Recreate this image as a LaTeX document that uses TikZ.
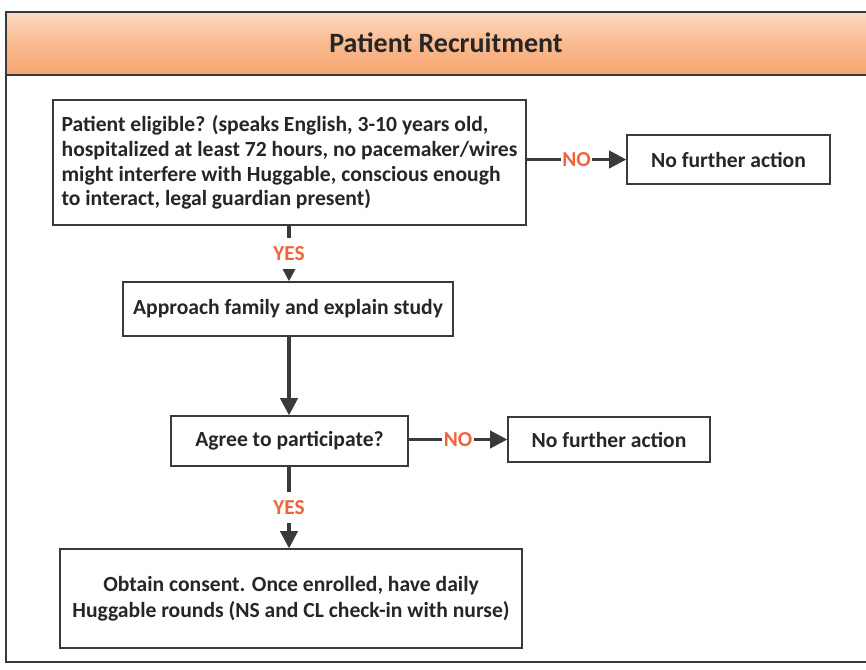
\documentclass[tikz,border=0pt]{standalone}
\usepackage{fontspec}
\setmainfont{Carlito}
\usetikzlibrary{arrows.meta}
\definecolor{ink}{HTML}{262626}
\definecolor{edge}{HTML}{3A3A3A}
\definecolor{accent}{HTML}{F0643C}
\definecolor{bandtop}{HTML}{FCDCC4}
\definecolor{bandmid}{HTML}{F9B98F}
\definecolor{bandbot}{HTML}{F6A570}
\begin{document}
\begin{tikzpicture}[x=0.75pt,y=-0.75pt,
  box/.style={draw=edge, line width=1pt, fill=white, inner sep=0pt,
    text=ink, font=\bfseries\fontsize{16.2}{18.5}\selectfont},
  flow/.style={draw=edge, line width=2.6pt, -{Triangle[length=13pt,width=13pt]}},
  yestag/.style={fill=white, text=accent, inner xsep=1pt, inner ysep=6.5pt,
    font=\bfseries\fontsize{16}{18}\selectfont},
  notag/.style={fill=white, text=accent, inner xsep=1.2pt, inner ysep=1pt,
    font=\bfseries\fontsize{16}{18}\selectfont},
]
\useasboundingbox (0,0) rectangle (866,669);

% header band and frame
\shade[top color=bandtop, bottom color=bandbot, middle color=bandmid] (6,12) rectangle (866,75);
\draw[edge, line width=1.4pt] (6,75) -- (866,75);
\draw[edge, line width=1.4pt] (866,12) -- (6,12) -- (6,662) -- (866,662);
\node[text=ink, font=\bfseries\fontsize{21}{24}\selectfont] (title) at (446,43) {Patient Recruitment};

% flow boxes
\node[box, minimum width=354.75pt, minimum height=93.75pt, align=left] (elig) at (289.5,162.5)
  {Patient eligible? (speaks English, 3-10 years old,\\
   hospitalized at least 72 hours, no pacemaker/wires\\
   might interfere with Huggable, conscious enough\\
   to interact, legal guardian present)};
\node[box, minimum width=152.25pt, minimum height=36.75pt] (stop1) at (728.5,159.5) {No further action};
\node[box, minimum width=247.5pt, minimum height=40.5pt] (approach) at (288,309) {Approach family and explain study};
\node[box, minimum width=177.75pt, minimum height=37.5pt] (agree) at (289.5,441) {Agree to participate?};
\node[box, minimum width=151.5pt, minimum height=33.75pt] (stop2) at (609,439.5) {No further action};
\node[box, minimum width=346.5pt, minimum height=74.25pt, align=center,
  font=\bfseries\fontsize{16.2}{19.5}\selectfont] (consent) at (291,598.5)
  {Obtain consent. Once enrolled, have daily\\Huggable rounds (NS and CL check-in with nurse)};

% connectors
\coordinate (spine) at (289,0);
\draw[flow] (elig.south -| spine) -- node[yestag] {YES} (approach.north -| spine);
\draw[flow] (approach.south -| spine) -- (agree.north -| spine);
\draw[flow] (agree.south -| spine) -- node[yestag] {YES} (consent.north -| spine);
\draw[flow] (stop1.west -| elig.east) -- node[notag] {NO} (stop1.west);
\draw[flow] (stop2.west -| agree.east) -- node[notag] {NO} (stop2.west);
\end{tikzpicture}
\end{document}
